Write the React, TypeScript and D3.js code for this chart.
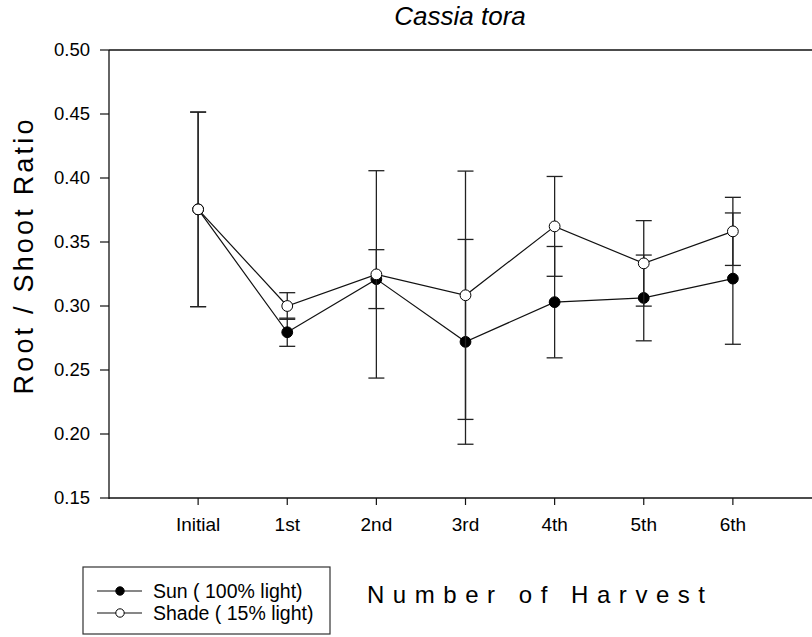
import React, { useEffect, useRef } from 'react';
import * as d3 from 'd3';

const harvests = ['Initial', '1st', '2nd', '3rd', '4th', '5th', '6th'];
const sunMean = [0.3755, 0.2795, 0.321, 0.272, 0.303, 0.3063, 0.3214];
const sunErr = [0.076, 0.011, 0.023, 0.080, 0.0435, 0.0335, 0.0513];
const shadeMean = [0.3755, 0.300, 0.3247, 0.3084, 0.3622, 0.3333, 0.3583];
const shadeErr = [0.076, 0.0104, 0.081, 0.097, 0.039, 0.0334, 0.0266];
const yTicks = [0.15, 0.2, 0.25, 0.3, 0.35, 0.4, 0.45, 0.5];

const FONT = '"Liberation Sans", Arial, sans-serif';

export default function App() {
  const ref = useRef<SVGSVGElement>(null);

  useEffect(() => {
    if (!ref.current) return;
    const svg = d3.select(ref.current);
    svg.selectAll('*').remove();

    const left = 109, top = 50, bottom = 498, right = 822;
    const x = d3.scaleLinear().domain([-1, harvests.length]).range([left, right]);
    const y = d3.scaleLinear().domain([0.15, 0.5]).range([bottom, top]);

    // frame: left, top, bottom lines
    const frame = svg.append('g').attr('stroke', '#111').attr('stroke-width', 1.3);
    frame.append('line').attr('x1', left).attr('x2', left).attr('y1', top).attr('y2', bottom + 1);
    frame.append('line').attr('x1', left).attr('x2', right).attr('y1', top).attr('y2', top);
    frame.append('line').attr('x1', left).attr('x2', right).attr('y1', bottom).attr('y2', bottom);

    // y ticks
    const yt = svg.append('g');
    yTicks.forEach(t => {
      yt.append('line')
        .attr('x1', left - 9).attr('x2', left)
        .attr('y1', y(t)).attr('y2', y(t))
        .attr('stroke', '#111').attr('stroke-width', 1.2);
      yt.append('text')
        .attr('x', left - 19).attr('y', y(t)).attr('dy', '0.35em')
        .attr('text-anchor', 'end')
        .style('font', `18.5px ${FONT}`)
        .text(d3.format('.2f')(t));
    });

    // x ticks
    const xt = svg.append('g');
    harvests.forEach((h, i) => {
      xt.append('line')
        .attr('x1', x(i)).attr('x2', x(i))
        .attr('y1', bottom).attr('y2', bottom + 7)
        .attr('stroke', '#111').attr('stroke-width', 1.2);
      xt.append('text')
        .attr('x', x(i)).attr('y', 531)
        .attr('text-anchor', 'middle')
        .style('font', `19px ${FONT}`)
        .text(h);
    });

    const drawSeries = (mean: number[], err: number[], fill: string) => {
      const g = svg.append('g');
      mean.forEach((m, i) => {
        const lo = y(m - err[i]), hi = y(m + err[i]);
        g.append('line').attr('x1', x(i)).attr('x2', x(i)).attr('y1', lo).attr('y2', hi)
          .attr('stroke', '#222').attr('stroke-width', 1.3);
        [lo, hi].forEach(yy => {
          g.append('line').attr('x1', x(i) - 8).attr('x2', x(i) + 8).attr('y1', yy).attr('y2', yy)
            .attr('stroke', '#222').attr('stroke-width', 1.3);
        });
      });
      const line = d3.line<number>().x((_, i) => x(i)).y(d => y(d));
      g.append('path').attr('d', line(mean)).attr('fill', 'none')
        .attr('stroke', '#111').attr('stroke-width', 1.2);
      g.selectAll('circle').data(mean).join('circle')
        .attr('cx', (_, i) => x(i)).attr('cy', d => y(d)).attr('r', 5.4)
        .attr('fill', fill).attr('stroke', '#000').attr('stroke-width', 1);
    };

    drawSeries(sunMean, sunErr, '#000');
    drawSeries(shadeMean, shadeErr, '#fff');

    // title & axis labels
    svg.append('text')
      .attr('x', 460).attr('y', 25).attr('text-anchor', 'middle')
      .style('font', `italic 26px ${FONT}`)
      .text('Cassia tora');

    svg.append('text')
      .attr('transform', 'translate(33,257) rotate(-90)')
      .attr('text-anchor', 'middle')
      .attr('textLength', 275).attr('lengthAdjust', 'spacing')
      .style('font', `27px ${FONT}`)
      .text('Root / Shoot Ratio');

    svg.append('text')
      .attr('x', 536).attr('y', 603).attr('text-anchor', 'middle')
      .attr('textLength', 338).attr('lengthAdjust', 'spacing')
      .style('font', `24px ${FONT}`)
      .text('Number of Harvest');

    // legend
    const lg = svg.append('g');
    lg.append('rect').attr('x', 83).attr('y', 567).attr('width', 247).attr('height', 67)
      .attr('fill', '#fff').attr('stroke', '#333').attr('stroke-width', 1.2);
    const items = [
      { label: 'Sun ( 100% light)', fill: '#000', y: 591 },
      { label: 'Shade ( 15% light)', fill: '#fff', y: 613 },
    ];
    items.forEach(it => {
      lg.append('line').attr('x1', 97).attr('x2', 142).attr('y1', it.y).attr('y2', it.y)
        .attr('stroke', '#111').attr('stroke-width', 1.2);
      lg.append('circle').attr('cx', 120).attr('cy', it.y).attr('r', 4.2)
        .attr('fill', it.fill).attr('stroke', '#000').attr('stroke-width', 1);
      lg.append('text').attr('x', 153).attr('y', it.y + 6.5)
        .style('font', `19.5px ${FONT}`)
        .text(it.label);
    });
  }, []);

  return (
    <div style={{ position: 'absolute', left: 0, top: 0, width: 812, height: 637, background: '#fff' }}>
      <svg ref={ref} width={812} height={637} style={{ display: 'block' }} />
    </div>
  );
}
